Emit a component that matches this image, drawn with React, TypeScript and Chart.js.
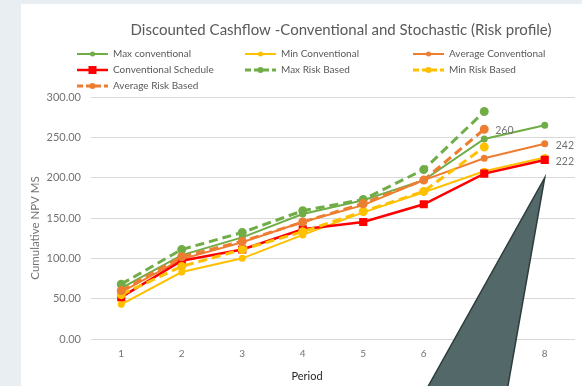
import React, { useEffect, useRef } from "react";
import { Chart, registerables } from "chart.js";

Chart.register(...registerables);

const periods = ["1", "2", "3", "4", "5", "6", "7", "8"];
const maxConventional = [63, 104, 126, 155, 172, 197, 248, 265];
const minConventional = [43, 83, 100, 129, 157, 182, 208, 225];
const avgConventional = [58, 99, 120, 145, 166, 197, 224, 242];
const conventionalSchedule = [52, 97, 111, 136, 145, 167, 205, 222];
const maxRiskBased = [68, 111, 132, 159, 173, 210, 282, null];
const minRiskBased = [55, 90, 111, 133, 158, 183, 238, null];
const avgRiskBased = [60, 102, 121, 145, 168, 197, 260, null];

const yTicks = [0, 50, 100, 150, 200, 250, 300];

const chartTitle = "Discounted Cashflow -Conventional and Stochastic (Risk profile)";
const yTitle = "Cumulative NPV MS";
const xTitle = "Period";

// labelled points: [datasetIndex, pointIndex]
const labelledPoints = [
  [6, 6],
  [2, 7],
  [3, 7],
];

const GREEN = "#70ad47";
const YELLOW = "#ffc000";
const ORANGE = "#ed7d31";
const RED = "#ff0000";
const FONT = "Lato, 'Open Sans', sans-serif";

export default function App() {
  const ref = useRef<HTMLCanvasElement | null>(null);

  useEffect(() => {
    document.body.style.margin = "0";
    const canvas = ref.current;
    if (!canvas) return;

    const mk = (
      label: string,
      data: (number | null)[],
      color: string,
      opts: any = {}
    ) => ({
      label,
      data,
      borderColor: color,
      backgroundColor: color,
      pointBackgroundColor: color,
      pointBorderColor: color,
      borderWidth: 2,
      pointRadius: 2.5,
      pointStyle: "circle",
      tension: 0,
      spanGaps: false,
      ...opts,
    });

    const datasets: any[] = [
      mk("Max conventional", maxConventional, GREEN),
      mk("Min Conventional", minConventional, YELLOW),
      mk("Average Conventional", avgConventional, ORANGE),
      mk("Conventional Schedule", conventionalSchedule, RED, {
        borderWidth: 2.5,
        pointStyle: "rect",
        pointRadius: 4,
      }),
      mk("Max Risk Based", maxRiskBased, GREEN, {
        borderWidth: 3,
        borderDash: [9, 5],
        pointRadius: 3,
      }),
      mk("Min Risk Based", minRiskBased, YELLOW, {
        borderWidth: 3,
        borderDash: [9, 5],
        pointRadius: 3,
      }),
      mk("Average Risk Based", avgRiskBased, ORANGE, {
        borderWidth: 3,
        borderDash: [9, 5],
        pointRadius: 3,
      }),
    ];
    datasets.forEach((d, i) => (d.order = datasets.length - i));

    const decor = {
      id: "decor",
      beforeDraw(chart: any) {
        const ctx = chart.ctx;
        ctx.save();
        ctx.fillStyle = "#e8eef1";
        ctx.fillRect(0, 0, chart.width, chart.height);
        ctx.fillStyle = "#ffffff";
        ctx.fillRect(21, 4, chart.width - 21, chart.height - 4);
        ctx.restore();
      },
      afterDatasetsDraw(chart: any) {
        const ctx = chart.ctx;
        ctx.save();
        ctx.font = `10.5px ${FONT}`;
        ctx.fillStyle = "#737373";
        ctx.textAlign = "left";
        ctx.textBaseline = "middle";
        labelledPoints.forEach(([di, pi]) => {
          const meta = chart.getDatasetMeta(di);
          const el = meta.data[pi];
          const v = chart.data.datasets[di].data[pi];
          if (el && v != null) {
            ctx.fillText(String(Math.round(v)), el.x + 11, el.y + 1.5);
          }
        });
        ctx.restore();
      },
      afterDraw(chart: any) {
        const ctx = chart.ctx;
        ctx.save();
        // title
        ctx.font = `15px ${FONT}`;
        ctx.fillStyle = "#595959";
        ctx.textAlign = "center";
        ctx.textBaseline = "middle";
        ctx.fillText(chartTitle, 341, 30);

        // legend
        const ds = chart.data.datasets;
        ds.forEach((d: any, i: number) => {
          const col = i % 3;
          const row = Math.floor(i / 3);
          const x0 = 77 + col * 168;
          const y = 54 + row * 16;
          const len = 31;
          ctx.save();
          ctx.strokeStyle = d.borderColor;
          ctx.lineWidth = d.borderWidth;
          ctx.setLineDash(d.borderDash ? [6, 3] : []);
          ctx.beginPath();
          ctx.moveTo(x0, y);
          ctx.lineTo(x0 + len, y);
          ctx.stroke();
          ctx.setLineDash([]);
          ctx.fillStyle = d.borderColor;
          const cx = x0 + len / 2;
          if (d.pointStyle === "rect") {
            ctx.fillRect(cx - 4, y - 4, 8, 8);
          } else {
            ctx.beginPath();
            ctx.arc(cx, y, d.pointRadius, 0, Math.PI * 2);
            ctx.fill();
          }
          ctx.restore();
          ctx.font = `10px ${FONT}`;
          ctx.fillStyle = "#595959";
          ctx.textAlign = "left";
          ctx.textBaseline = "middle";
          ctx.fillText(d.label, x0 + len + 5, y);
        });

        // axis titles
        ctx.font = `11.5px ${FONT}`;
        ctx.fillStyle = "#737373";
        ctx.save();
        ctx.translate(35, 228);
        ctx.rotate(-Math.PI / 2);
        ctx.textAlign = "center";
        ctx.textBaseline = "middle";
        ctx.fillText(yTitle, 0, 0);
        ctx.restore();

        ctx.font = `11px ${FONT}`;
        ctx.fillStyle = "#262626";
        ctx.textAlign = "center";
        ctx.textBaseline = "middle";
        ctx.fillText(xTitle, 307, 376);

        // callout triangle
        const xs = chart.scales.x;
        const ys = chart.scales.y;
        const ax = xs.getPixelForValue(periods.length - 1);
        const ay = ys.getPixelForValue(200);
        ctx.beginPath();
        ctx.moveTo(ax, ay);
        ctx.lineTo(ax - 37, chart.height + 1);
        ctx.lineTo(ax - 117, chart.height + 1);
        ctx.closePath();
        ctx.fillStyle = "#536868";
        ctx.fill();
        ctx.strokeStyle = "#2e3c3c";
        ctx.lineWidth = 1.5;
        ctx.stroke();
        ctx.restore();
      },
    };

    const chart = new Chart(canvas, {
      type: "line",
      data: { labels: periods, datasets },
      options: {
        responsive: false,
        animation: false,
        devicePixelRatio: 1,
        layout: { padding: { left: 0, top: 97, right: 1, bottom: 0 } },
        plugins: {
          legend: { display: false },
          title: { display: false },
          tooltip: { enabled: false },
        },
        scales: {
          x: {
            offset: true,
            grid: { display: false, drawTicks: false },
            border: { display: false },
            ticks: {
              padding: 9,
              color: "#737373",
              font: { family: FONT, size: 10 },
            },
            afterFit(scale: any) {
              scale.height = 47;
            },
          },
          y: {
            min: 0,
            max: 300,
            afterBuildTicks(scale: any) {
              scale.ticks = yTicks.map((v) => ({ value: v }));
            },
            grid: { color: "#d9d9d9", drawTicks: false, lineWidth: 1 },
            border: { display: false },
            ticks: {
              padding: 10,
              color: "#737373",
              font: { family: FONT, size: 11 },
              callback: (v: any) => Number(v).toFixed(2),
            },
            afterFit(scale: any) {
              scale.width = 91;
            },
          },
        },
      },
      plugins: [decor],
    } as any);

    return () => chart.destroy();
  }, []);

  return (
    <div style={{ width: 582, height: 386 }}>
      <canvas ref={ref} width={582} height={386} style={{ display: "block" }} />
    </div>
  );
}
